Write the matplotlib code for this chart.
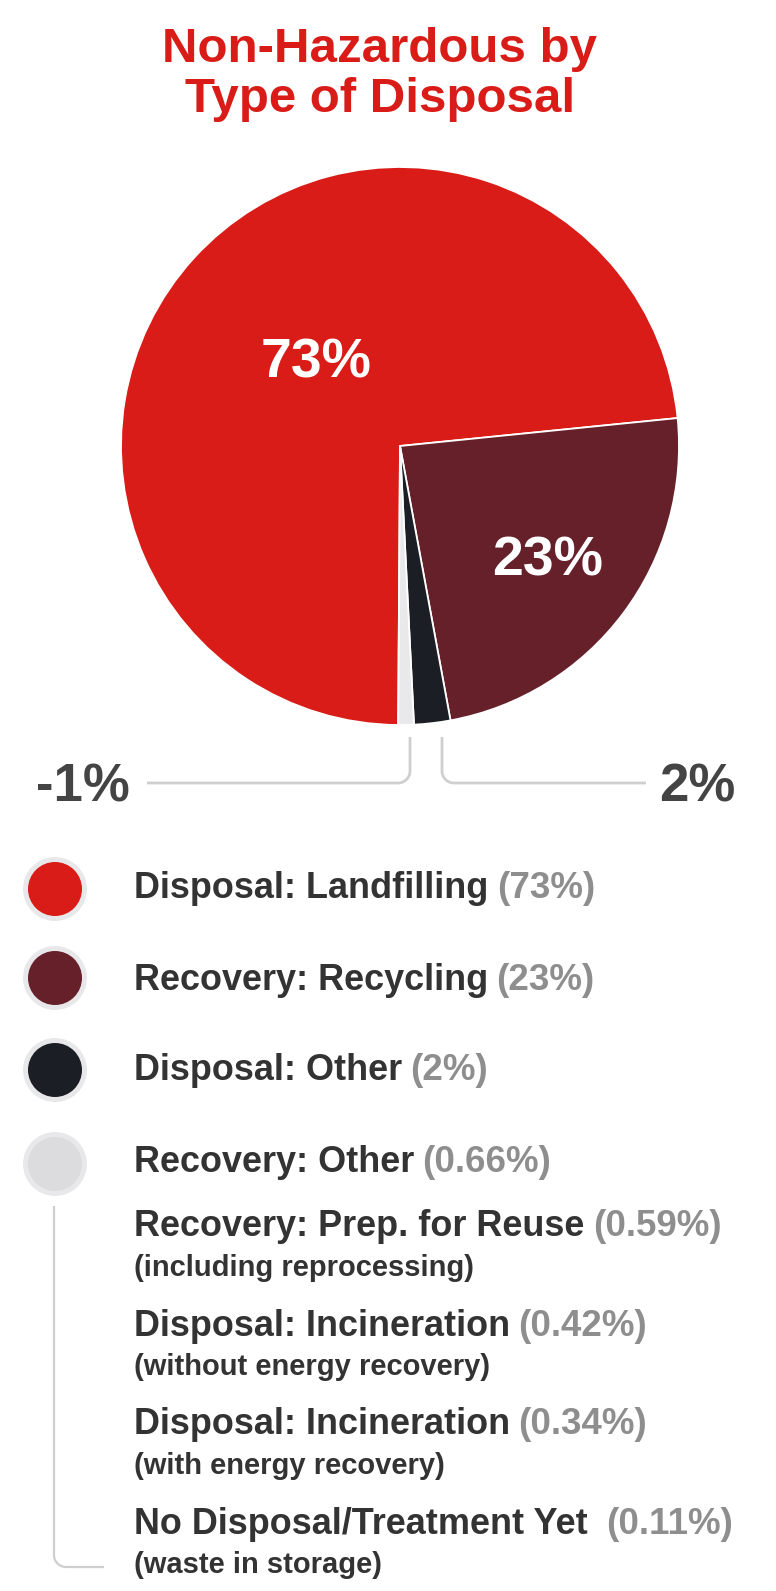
import numpy as np
import matplotlib
matplotlib.use("Agg")
import matplotlib.pyplot as plt
from matplotlib.patches import Circle

plt.rcParams["font.family"] = ["Liberation Sans", "DejaVu Sans"]

W, H = 776, 1591

# pie slices (legend order), shares
slice_names = ["Disposal: Landfilling", "Recovery: Recycling", "Disposal: Other", "Other (<1% items)"]
slice_vals = [73.3, 23.7, 2.1, 0.9]
slice_cols = ["#D91C17", "#65202A", "#1B1E24", "#E9E9EB"]
inner_labels = ["73%", "23%"]
outer_labels = ["-1%", "2%"]

# legend entries
leg_main = ["Disposal: Landfilling", "Recovery: Recycling", "Disposal: Other", "Recovery: Other",
            "Recovery: Prep. for Reuse", "Disposal: Incineration", "Disposal: Incineration",
            "No Disposal/Treatment Yet"]
leg_vals = ["(73%)", "(23%)", "(2%)", "(0.66%)", "(0.59%)", "(0.42%)", "(0.34%)", "(0.11%)"]
leg_sub = ["", "", "", "", "(including reprocessing)", "(without energy recovery)",
           "(with energy recovery)", "(waste in storage)"]
leg_dots = ["#D91C17", "#65202A", "#1B1E24", "#DCDCDF"]

TXT = "#333333"
VALC = "#8E8E8E"
LINE = "#CFCFCF"


def Y(y):
    return H - y


fig = plt.figure(figsize=(W / 100, H / 100), dpi=100)
ax = fig.add_axes([0, 0, 1, 1])

# pie: clockwise, red/dark-red boundary sits ~5.75 deg above the horizontal
frac_red = slice_vals[0] / sum(slice_vals)
ax.pie(slice_vals, colors=slice_cols, counterclock=False,
       startangle=5.75 + 360 * frac_red, center=(400, Y(446)), radius=279,
       wedgeprops=dict(edgecolor="white", linewidth=1.3))
ax.set_xlim(0, W)
ax.set_ylim(0, H)
ax.set_aspect("equal")
ax.axis("off")

ax.text(380, Y(49), "Non-Hazardous by", ha="center", va="center", color="#D91C17",
        fontsize=35.5, fontweight="bold")
ax.text(380, Y(100), "Type of Disposal", ha="center", va="center", color="#D91C17",
        fontsize=35.5, fontweight="bold")

ax.text(316, Y(363), inner_labels[0], ha="center", va="center", color="white",
        fontsize=40, fontweight="bold")
ax.text(548, Y(562), inner_labels[1], ha="center", va="center", color="white",
        fontsize=40, fontweight="bold")
ax.text(83, Y(788), outer_labels[0], ha="center", va="center", color="#444444",
        fontsize=38, fontweight="bold")
ax.text(697, Y(788), outer_labels[1], ha="center", va="center", color="#444444",
        fontsize=38, fontweight="bold")


def leader(x0, y_top, y_bot, x_end, r=12, lw=2):
    s = 1 if x_end > x0 else -1
    t = np.linspace(0, np.pi / 2, 20)
    ax_ = x0 + s * r * (1 - np.cos(t))
    ay_ = (y_bot - r) + r * np.sin(t)
    xs = np.concatenate([[x0], ax_, [x_end]])
    ys = np.concatenate([[y_top], ay_, [y_bot]])
    ax.plot(xs, [Y(v) for v in ys], color=LINE, lw=lw, solid_capstyle="butt")


leader(410, 737, 783, 147)
leader(442, 737, 783, 646)

# legend dots
dot_y = [889, 978, 1070, 1164]
for c, yy in zip(leg_dots, dot_y):
    ax.add_patch(Circle((55, Y(yy)), 32, color="#E8E8EA", lw=0))
    ax.add_patch(Circle((55, Y(yy)), 27, color=c, lw=0))

# bracket line from the light-gray dot down to the last entry
leader(54, 1206, 1567, 104, r=12, lw=1.6)

main_y = [888, 981, 1071, 1162, 1226, 1326, 1425, 1524]
sub_y = [None, None, None, None, 1268, 1367, 1466, 1565]
gaps = [6, 6, 6, 6, 6, 6, 6, 13]
for lab, val, sub, my, sy, g in zip(leg_main, leg_vals, leg_sub, main_y, sub_y, gaps):
    t = ax.text(134, Y(my), lab, ha="left", va="center", color=TXT,
                fontsize=25.9, fontweight="bold")
    ax.annotate(val, xy=(1, 0), xycoords=t, xytext=(g, 0), textcoords="offset points",
                ha="left", va="bottom", color=VALC, fontsize=26.5, fontweight="bold")
    if sub:
        ax.text(134, Y(sy), sub, ha="left", va="center", color=TXT,
                fontsize=21, fontweight="bold")

fig.savefig("out.png", dpi=100, facecolor="white")
